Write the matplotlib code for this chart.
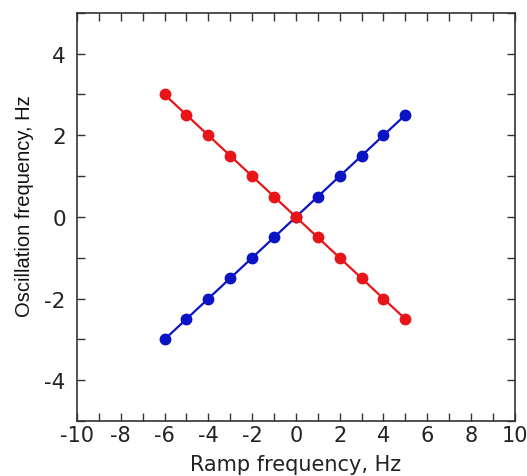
import matplotlib
matplotlib.use("Agg")
import matplotlib.pyplot as plt
from matplotlib.ticker import MultipleLocator

ramp = [-6, -5, -4, -3, -2, -1, 0, 1, 2, 3, 4, 5]
blue_osc = [-3, -2.5, -2, -1.5, -1, -0.5, 0, 0.5, 1, 1.5, 2, 2.5]
red_osc = [3, 2.5, 2, 1.5, 1, 0.5, 0, -0.5, -1, -1.5, -2, -2.5]
xticks = [-10, -8, -6, -4, -2, 0, 2, 4, 6, 8, 10]
yticks = [-4, -2, 0, 2, 4]

plt.rcParams['font.family'] = ['DejaVu Sans']
plt.rcParams['axes.unicode_minus'] = False
fig = plt.figure(figsize=(5.27, 4.77), dpi=100)
ax = fig.add_axes([0.146, 0.115, 0.831, 0.856])

ax.plot(ramp, blue_osc, '-o', color='#0a14c4', lw=1.6, ms=7.5, zorder=2)
ax.plot(ramp, red_osc, '-o', color='#e81518', lw=1.6, ms=7.5, zorder=3)

ax.set_xlim(-10, 10)
ax.set_ylim(-5, 5)
ax.set_xticks(xticks)
ax.set_yticks(yticks)
ax.xaxis.set_minor_locator(MultipleLocator(1))
ax.yaxis.set_minor_locator(MultipleLocator(1))
ax.tick_params(which='both', direction='in', top=True, right=True, width=1.0, color='#333333', length=6)
ax.tick_params(axis='x', which='major', labelsize=15, pad=3, labelcolor='#222222')
ax.tick_params(axis='y', which='major', labelsize=15.5, pad=8, labelcolor='#222222')
for s in ax.spines.values():
    s.set_linewidth(1.2)
    s.set_color('#333333')

ax.set_xlabel('Ramp frequency, Hz', fontsize=15, labelpad=6, color='#222222')
ax.set_ylabel('Oscillation frequency, Hz', fontsize=14.5, family=['Liberation Sans'],
              color='#111111')
ax.yaxis.set_label_coords(-0.097, 0.528)

fig.savefig('out.png', dpi=100)
